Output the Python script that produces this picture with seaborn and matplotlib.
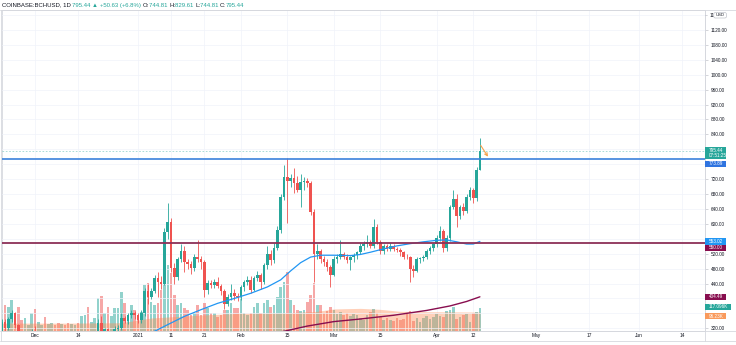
import numpy as np
import pandas as pd
import matplotlib
matplotlib.use("Agg")
import matplotlib.pyplot as plt
import matplotlib.dates as mdates
import matplotlib.transforms as mtransforms
from matplotlib.patches import Rectangle, FancyBboxPatch
from matplotlib.lines import Line2D
import seaborn as sns

# ---------------- data ----------------
symbol = "COINBASE:BCHUSD, 1D"
first_day = "2020-11-21"
countdown = "07:51:25"

opens = [300, 338, 322, 345, 362, 328, 275, 270, 288, 292,
         312, 295, 300, 302, 280, 288, 290, 284, 265, 272,
         266, 260, 270, 280, 276, 279, 298, 290, 295, 305,
         335, 310, 318, 282, 296, 318, 322, 347, 340, 355,
         362, 355, 342, 360, 420, 403, 420, 455, 445, 440,
         578, 604, 481, 458, 505, 528, 497, 492, 482, 510,
         505, 497, 422, 442, 435, 443, 433, 420, 385, 405,
         415, 406, 403, 430, 443, 450, 424, 455, 462, 445,
         489, 520, 502, 535, 583, 672, 725, 716, 722, 710,
         690, 712, 716, 709, 632, 518, 527, 505, 498, 485,
         464, 505, 512, 518, 510, 503, 510, 516, 524, 540,
         546, 552, 540, 591, 551, 528, 540, 533, 542, 532,
         529, 524, 512, 510, 478, 474, 506, 508, 512, 526,
         536, 545, 562, 580, 535, 562, 646, 668, 620, 644,
         635, 672, 690, 670, 744.81]
highs = [345, 345, 350, 370, 365, 332, 285, 292, 298, 318,
         325, 305, 308, 305, 292, 295, 293, 286, 275, 274,
         268, 272, 282, 283, 282, 300, 312, 298, 310, 345,
         352, 322, 320, 300, 325, 330, 360, 352, 362, 368,
         366, 360, 368, 428, 440, 428, 462, 470, 460, 590,
         656, 615, 495, 510, 545, 540, 505, 500, 520, 556,
         515, 502, 450, 450, 452, 458, 440, 425, 412, 438,
         425, 415, 435, 450, 460, 460, 460, 475, 468, 495,
         540, 530, 550, 595, 680, 757, 776, 735, 749, 728,
         733, 725, 722, 715, 640, 545, 532, 515, 505, 490,
         515, 518, 556, 525, 518, 515, 522, 528, 548, 555,
         570, 556, 612, 600, 556, 545, 545, 548, 546, 538,
         536, 528, 520, 515, 490, 510, 512, 516, 532, 540,
         550, 570, 595, 585, 570, 650, 690, 680, 652, 655,
         680, 698, 695, 752, 829.61]
lows = [292, 312, 315, 338, 322, 262, 262, 266, 282, 288,
        285, 288, 292, 275, 276, 282, 280, 262, 255, 262,
        255, 258, 268, 272, 270, 275, 285, 286, 290, 300,
        300, 302, 270, 278, 292, 310, 315, 335, 332, 348,
        345, 335, 335, 352, 385, 398, 415, 403, 425, 435,
        560, 470, 440, 450, 498, 470, 478, 465, 475, 498,
        480, 405, 412, 428, 428, 428, 410, 372, 380, 395,
        395, 392, 395, 420, 435, 415, 420, 448, 425, 440,
        480, 490, 495, 530, 575, 665, 602, 700, 682, 685,
        645, 690, 698, 625, 443, 505, 495, 488, 475, 432,
        460, 495, 505, 505, 495, 476, 498, 505, 520, 530,
        538, 535, 536, 545, 520, 520, 528, 528, 528, 525,
        515, 505, 505, 443, 457, 470, 496, 500, 505, 518,
        528, 538, 555, 525, 528, 555, 640, 591, 612, 625,
        628, 665, 655, 662, 744.81]
closes = [338, 322, 345, 362, 328, 275, 270, 288, 292, 312,
          295, 300, 302, 280, 288, 290, 284, 265, 272, 266,
          260, 270, 280, 276, 279, 298, 290, 295, 305, 335,
          310, 318, 282, 296, 318, 322, 347, 340, 355, 362,
          355, 342, 360, 420, 403, 420, 455, 445, 440, 578,
          604, 481, 458, 505, 528, 497, 492, 482, 510, 505,
          497, 422, 442, 435, 443, 433, 420, 385, 405, 415,
          406, 403, 430, 443, 450, 424, 455, 462, 445, 489,
          520, 502, 535, 583, 672, 725, 716, 722, 710, 690,
          712, 716, 709, 632, 518, 527, 505, 498, 485, 464,
          505, 512, 518, 510, 503, 510, 516, 524, 540, 546,
          552, 540, 591, 551, 528, 540, 533, 542, 532, 529,
          524, 512, 510, 478, 474, 506, 508, 512, 526, 536,
          545, 562, 580, 535, 562, 646, 668, 620, 644, 635,
          672, 690, 670, 744.81, 795.44]
volumes_k = [107, 132, 122, 157, 56, 122, 56, 66, 30, 91,
             112, 46, 30, 71, 36, 41, 30, 41, 36, 30,
             41, 36, 30, 41, 76, 81, 122, 46, 66, 168,
             178, 91, 122, 76, 117, 117, 198, 142, 81, 132,
             107, 66, 97, 234, 244, 147, 132, 142, 208, 396,
             335, 295, 183, 132, 142, 117, 107, 81, 91, 132,
             81, 142, 117, 91, 91, 71, 81, 107, 107, 142,
             117, 117, 183, 91, 81, 91, 122, 142, 91, 142,
             157, 122, 132, 173, 224, 249, 300, 157, 132, 107,
             102, 107, 147, 183, 244, 132, 132, 91, 102, 122,
             107, 86, 97, 81, 91, 76, 86, 81, 66, 56,
             81, 97, 112, 91, 71, 56, 66, 56, 51, 66,
             56, 61, 86, 102, 51, 66, 46, 66, 76, 61,
             71, 86, 76, 71, 102, 107, 122, 61, 71, 81,
             86, 46, 91, 97, 117.096]

# moving averages (vertices of the plotted curves)
fast_ma_days = ["2020-12-31", "2021-01-06", "2021-01-10", "2021-01-15", "2021-01-20",
                "2021-01-25", "2021-01-30", "2021-02-04", "2021-02-09", "2021-02-13",
                "2021-02-16", "2021-02-19", "2021-02-22", "2021-02-25", "2021-03-01",
                "2021-03-06", "2021-03-09", "2021-03-12", "2021-03-16", "2021-03-20",
                "2021-03-24", "2021-03-28", "2021-04-01", "2021-04-04", "2021-04-07",
                "2021-04-10", "2021-04-12", "2021-04-14"]
fast_ma_vals = [300, 312, 330, 352, 370, 387, 400, 414, 431, 450,
                474, 496, 511, 516, 516, 515, 518, 524, 533, 541,
                547, 552, 556, 557, 552, 546, 546, 553.02]
slow_ma_days = ["2021-02-09", "2021-02-14", "2021-02-21", "2021-03-01", "2021-03-09",
                "2021-03-19", "2021-03-29", "2021-04-05", "2021-04-10", "2021-04-14"]
slow_ma_vals = [305, 312, 326, 338, 345, 355, 368, 380, 392, 404.49]
vol_ma_days = ["2020-11-21", "2020-12-11", "2020-12-27", "2021-01-05", "2021-01-20",
               "2021-02-02", "2021-02-14", "2021-02-24", "2021-03-01", "2021-03-09",
               "2021-03-15", "2021-03-21", "2021-03-31", "2021-04-14"]
vol_ma_vals = [40, 40, 42, 66, 81, 91, 92, 100, 112, 115, 110, 100, 98, 96.23]

level_resistance = 773.89
level_support = 550.00

# price scale labels (those under the value tags are not shown)
price_ticks = list(range(320, 1161, 40))
hidden_price_labels = [360, 400, 560, 760, 800]
time_ticks = ["2020-12-01", "2020-12-14", "2021-01-01", "2021-01-11", "2021-01-21",
              "2021-02-01", "2021-02-15", "2021-03-01", "2021-03-15", "2021-04-01",
              "2021-04-12", "2021-05-01", "2021-05-17", "2021-06-01", "2021-06-14"]
time_labels = ["Dec", "14", "2021", "11", "21", "Feb", "15", "Mar", "15", "Apr",
               "12", "May", "17", "Jun", "14"]

# ---------------- style ----------------
UP, DOWN = "#26a69a", "#ef5350"
FAST_C, SLOW_C = "#2196f3", "#880e4f"
LEVEL_BLUE, LEVEL_MAROON = "#3b82dc", "#8c3057"
VOLMA_C = "#ff8a50"
TEXT_C = "#131722"
GRID_C = "#f0f3fa"
BORDER_C = "#d6d8de"

sns.set_theme(style="white")
plt.rcParams["font.family"] = ["Liberation Sans", "DejaVu Sans"]

W, H, DPI = 736, 345, 100
PX_L, PX_R, PX_T, PX_B = 1.5, 705, 10, 331

fig = plt.figure(figsize=(W / DPI, H / DPI), dpi=DPI)
fig.patch.set_facecolor("white")
ax_vol = fig.add_axes([PX_L / W, 1 - PX_B / H, (PX_R - PX_L) / W, (PX_B - PX_T) / H])
ax = ax_vol.twinx()  # price pane drawn above the volume pane

days = pd.date_range(first_day, periods=len(closes), freq="D")
x = mdates.date2num(days)
o = np.array(opens, float)
h = np.array(highs, float)
l = np.array(lows, float)
c = np.array(closes, float)
up = c >= o

# volume histogram + its moving average
vol_cols = [(0.149, 0.651, 0.604, 0.5) if u else (0.937, 0.325, 0.314, 0.5) for u in up]
ax_vol.bar(x, volumes_k, width=0.78, color=vol_cols, linewidth=0, zorder=2)
vx = mdates.date2num(pd.to_datetime(vol_ma_days))
ax_vol.fill_between(vx, 0, vol_ma_vals, color=VOLMA_C, alpha=0.4, linewidth=0, zorder=3)

# candles
cols = np.where(up, UP, DOWN)
ax.vlines(x, l, h, colors=cols, linewidth=0.6, zorder=4)
body_lo = np.minimum(o, c)
body_h = np.maximum(np.abs(c - o), 1.5)
ax.bar(x, body_h, bottom=body_lo, width=0.8, color=cols, linewidth=0, zorder=5)

# moving averages
sns.lineplot(x=mdates.date2num(pd.to_datetime(fast_ma_days)), y=fast_ma_vals, ax=ax,
             color=FAST_C, linewidth=0.9, zorder=6)
sns.lineplot(x=mdates.date2num(pd.to_datetime(slow_ma_days)), y=slow_ma_vals, ax=ax,
             color=SLOW_C, linewidth=1.0, zorder=6)

# horizontal levels and last price line
ax.axhline(c[-1], color=UP, linewidth=0.6, linestyle=(0, (2, 2)), alpha=0.45, zorder=3)
ax.axhline(level_resistance, color=LEVEL_BLUE, linewidth=1.2, zorder=7)
ax.axhline(level_support, color=LEVEL_MAROON, linewidth=1.3, zorder=7)

# arrow drawing next to the last candle
ax.annotate("", xy=(x[-1] + 2.9, level_resistance), xytext=(x[-1] - 0.2, h[-1] - 13),
            arrowprops=dict(arrowstyle="->", color="#f7a14a", lw=0.8, mutation_scale=5),
            zorder=8)

# axes limits
d0 = x[0]
ax_vol.set_xlim(d0 - 0.09, d0 + 211.8)
ax.set_ylim(312.8, 1173.6)
ax_vol.set_ylim(0, 1631)

# grid / ticks
tick_x = mdates.date2num(pd.to_datetime(time_ticks))
ax_vol.set_xticks(tick_x)
ax_vol.set_xticklabels(time_labels, fontsize=3.5, color=TEXT_C)
ax_vol.tick_params(axis="x", length=0, pad=1.6)
ax_vol.set_yticks([])
ax_vol.grid(True, axis="x", color=GRID_C, linewidth=0.5)
ax_vol.set_axisbelow(True)

shown_ticks = [p for p in price_ticks if p not in hidden_price_labels and p != price_ticks[-1]]
ax.set_yticks(shown_ticks)
ax.set_yticklabels([f"{p:.2f}" for p in shown_ticks], fontsize=3.4, color=TEXT_C)
ax.tick_params(axis="y", length=2, width=0.4, color="#b2b5be", pad=2)
ax.set_xlabel("")
ax.set_ylabel("")
for p in price_ticks:
    ax.axhline(p, color=GRID_C, linewidth=0.5, zorder=0)

for sp in ax.spines.values():
    sp.set_visible(False)
for sp in ax_vol.spines.values():
    sp.set_color(BORDER_C)
    sp.set_linewidth(0.6)

# ---------------- overlays in pixel space ----------------
pix = mtransforms.Affine2D().scale(1.0 / W, -1.0 / H).translate(0, 1) + fig.transFigure
fig.canvas.draw()
renderer = fig.canvas.get_renderer()


def y_of(axis, v):
    return H - axis.transData.transform((d0, v))[1]


# frame lines
for xs, ys in [([0, W], [PX_B, PX_B]), ([0, W], [341, 341]), ([PX_R, PX_R], [PX_T, 341]),
               ([1, 1], [PX_T, 341]), ([0, W], [PX_T, PX_T])]:
    fig.add_artist(Line2D(xs, ys, transform=pix, color=BORDER_C, linewidth=0.6))


def badge(yc, lines, fc, x1=726, hgt=6.2):
    x0 = PX_R
    fig.add_artist(Rectangle((x0, yc - hgt / 2), x1 - x0, hgt, transform=pix,
                             facecolor=fc, edgecolor="none", zorder=20))
    n = len(lines)
    for k, s in enumerate(lines):
        ty = yc + (k - (n - 1) / 2) * 5.0
        fig.text((x0 + 3.5) / W, 1 - ty / H, s, fontsize=3.3, color="white",
                 ha="left", va="center", zorder=21)


last_y = y_of(ax, c[-1])
badge(last_y + 2.0, [f"{c[-1]:.2f}", countdown], UP, hgt=11.2)
badge(y_of(ax, level_resistance) + 4.6, [f"{level_resistance:.2f}"], "#2f74e0")
badge(y_of(ax, fast_ma_vals[-1]), [f"{fast_ma_vals[-1]:.2f}"], FAST_C)
badge(y_of(ax, level_support) + 5.3, [f"{level_support:.2f}"], SLOW_C)
badge(y_of(ax, slow_ma_vals[-1]), [f"{slow_ma_vals[-1]:.2f}"], SLOW_C)
badge(y_of(ax_vol, volumes_k[-1]) - 1.0, [f"{volumes_k[-1]:.3f}K"], UP, x1=731)
badge(y_of(ax_vol, vol_ma_vals[-1]) + 4.0, [f"{vol_ma_vals[-1]:.2f}K"], "#f99a5c")

# top price label: only its first digits stay visible left of the currency tag
top_y = y_of(ax, price_ticks[-1])
fig.text((PX_R + 4.2) / W, 1 - top_y / H, f"{price_ticks[-1]:.2f}"[:2], fontsize=3.4,
         color=TEXT_C, ha="left", va="center")
fig.add_artist(Line2D([PX_R, PX_R + 2.4], [top_y, top_y], transform=pix, color="#b2b5be",
                      linewidth=0.4))

# currency tag at the top of the price scale
fig.add_artist(FancyBboxPatch((713.8, 12.6), 12.6, 5.4, boxstyle="round,pad=0,rounding_size=1.5",
                              transform=pix, facecolor="white", edgecolor="#b2b5be",
                              linewidth=0.4, zorder=22))
fig.text(720.1 / W, 1 - 15.3 / H, "USD", fontsize=3.0, color=TEXT_C, ha="center",
         va="center", zorder=23)

# legend line at the top
chg = c[-1] - c[-2]
pct = chg / c[-2] * 100
parts = [(symbol + " ", TEXT_C), (f"{c[-1]:.2f} ", UP), ("\u25b2 ", UP),
         (f"+{chg:.2f} (+{pct:.1f}%) ", UP),
         ("O:", TEXT_C), (f"{o[-1]:.2f} ", UP), ("H:", TEXT_C), (f"{h[-1]:.2f} ", UP),
         ("L:", TEXT_C), (f"{l[-1]:.2f} ", UP), ("C:", TEXT_C), (f"{c[-1]:.2f}", UP)]
xpos = 2.0
for s, col in parts:
    t = fig.text(xpos / W, 1 - 5.2 / H, s, fontsize=4.3, color=col, ha="left", va="center")
    xpos += t.get_window_extent(renderer).width

fig.savefig("out.png", dpi=DPI, facecolor="white")
